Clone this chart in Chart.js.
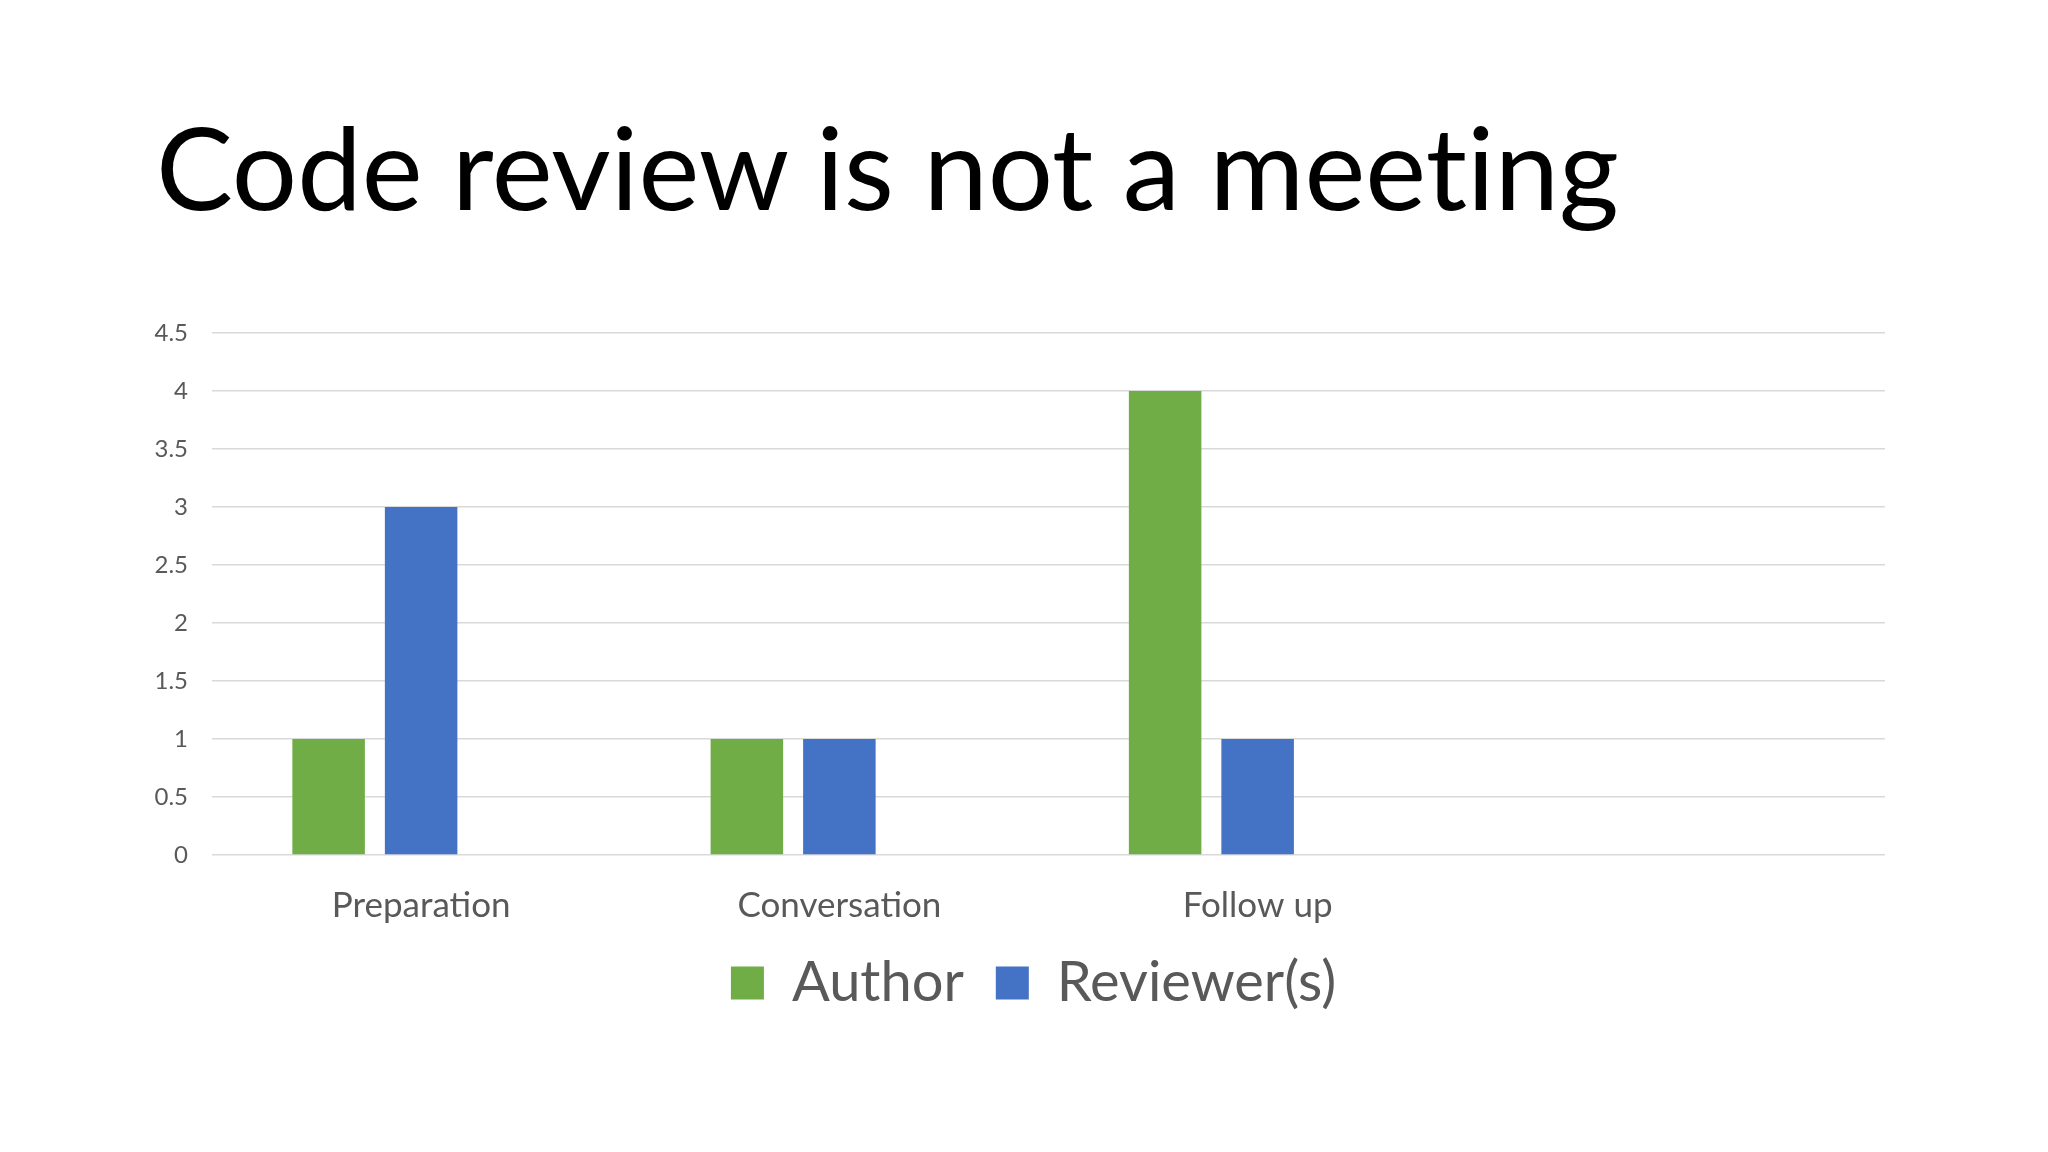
<!DOCTYPE html>
<html>
<head>
<meta charset="utf-8">
<script src="https://cdn.jsdelivr.net/npm/chart.js@4/dist/chart.umd.min.js"></script>
<style>
    html, body { margin: 0; padding: 0; background: #ffffff; }
    body { width: 2048px; height: 1152px; position: relative; overflow: hidden; }
    #title {
        position: absolute;
        left: 156px;
        top: 114px;
        margin: 0;
        font-family: Lato, "Open Sans", sans-serif;
        font-weight: 400;
        font-size: 100px;
        font-variant-ligatures: none;
        line-height: 1;
        color: #000000;
        white-space: nowrap;
    }
    #wrap { position: absolute; left: 0; top: 0; width: 2048px; height: 1152px; }
</style>
</head>
<body>
<h1 id="title">Code review is not a meeting</h1>
<div id="wrap"><canvas id="reviewChart"></canvas></div>
<script>
// Chart values
const categories = ['Preparation', 'Conversation', 'Follow up', ''];
const authorValues = [1, 1, 4, null];
const reviewerValues = [3, 1, 1, null];
const emptySeries = [null, null, null, null];   // third (unused) series keeps the bar spacing
const seriesNames = ['Author', 'Reviewer(s)', 'Series 3'];
const yTicks = [0, 0.5, 1, 1.5, 2, 2.5, 3, 3.5, 4, 4.5];

const green = '#70AD47';
const blue = '#4472C4';
const textGrey = '#595959';
const gridGrey = '#D9D9D9';
const fontFamily = 'Lato, "Open Sans", sans-serif';

// Size the title so it spans the same width as on the slide
function fitTitle() {
    const el = document.getElementById('title');
    const w = el.getBoundingClientRect().width;   // measured at 100px
    const size = 100 * 1463 / w;
    el.style.fontSize = size + 'px';
    el.style.top = (210 - 0.887 * size) + 'px';
}
fitTitle();

// nudge the legend a bit left, it sits slightly left of the plot centre on the slide
const legendShift = {
    id: 'legendShift',
    afterLayout(chart) {
        chart.legend.left -= 15;
        chart.legend.right -= 15;
    }
};

const ctx = document.getElementById('reviewChart').getContext('2d');
new Chart(ctx, {
    type: 'bar',
    data: {
        labels: categories,
        datasets: [{
            label: seriesNames[0],
            data: authorValues,
            backgroundColor: green,
            borderWidth: 0
        }, {
            label: seriesNames[1],
            data: reviewerValues,
            backgroundColor: blue,
            borderWidth: 0
        }, {
            label: seriesNames[2],
            data: emptySeries,
            backgroundColor: '#A5A5A5',
            borderWidth: 0
        }]
    },
    options: {
        responsive: true,
        maintainAspectRatio: false,
        animation: false,
        devicePixelRatio: 1,
        categoryPercentage: 0.6635,
        barPercentage: 0.784,
        layout: {
            padding: { left: 130, right: 163, top: 333, bottom: 131 }
        },
        scales: {
            x: {
                grid: { display: false },
                border: { display: false },
                ticks: {
                    color: textGrey,
                    font: { family: fontFamily, size: 35 },
                    padding: 22,
                    maxRotation: 0
                },
                afterFit: (scale) => { scale.height = 68; }
            },
            y: {
                min: 0,
                max: 4.5,
                afterBuildTicks: (scale) => { scale.ticks = yTicks.map(v => ({ value: v })); },
                grid: { color: gridGrey, lineWidth: 1.5, drawTicks: false },
                border: { display: false },
                ticks: {
                    color: textGrey,
                    font: { family: fontFamily, size: 24 },
                    padding: 24,
                    callback: (v) => String(v)
                },
                afterFit: (scale) => { scale.width = 82; }
            }
        },
        plugins: {
            legend: {
                position: 'bottom',
                fullSize: false,
                labels: {
                    color: textGrey,
                    font: { family: fontFamily, size: 56 },
                    boxWidth: 33,
                    boxHeight: 33,
                    padding: 32,
                    filter: (item) => item.datasetIndex < 2
                }
            },
            tooltip: { enabled: false }
        }
    },
    plugins: [legendShift]
});
</script>
</body>
</html>
